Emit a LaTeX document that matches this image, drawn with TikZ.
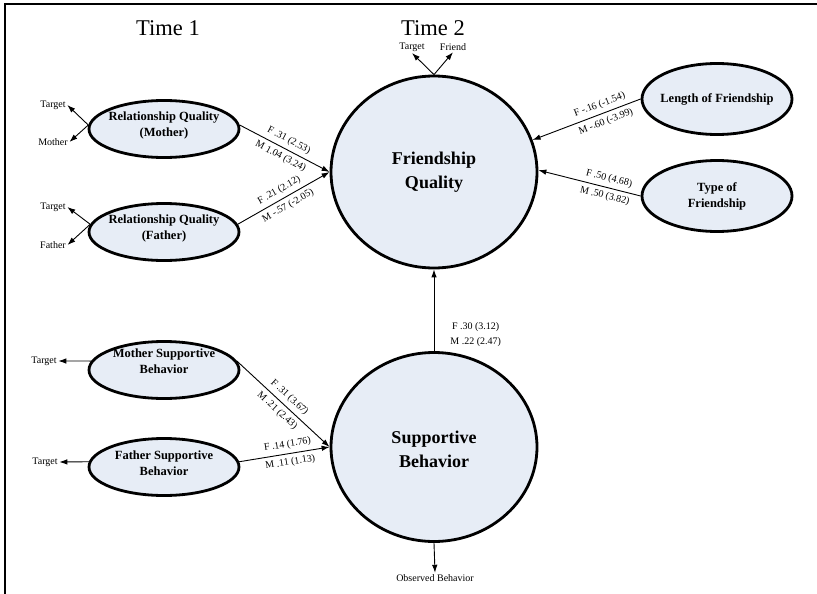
\documentclass[tikz,border=0pt]{standalone}
\usepackage{fontspec}
\setmainfont{Liberation Serif}
\usetikzlibrary{shapes.geometric,arrows.meta}
\definecolor{ellfill}{RGB}{231,237,246}
\begin{document}
\begin{tikzpicture}[x=1pt,y=-1pt,
  ell/.style={ellipse, draw=black, line width=2.8pt, fill=ellfill, inner sep=0pt},
  smallell/.style={ell, minimum width=150pt, minimum height=57pt},
  rightell/.style={ell, minimum width=150pt, minimum height=71pt},
  bigell/.style={ell, minimum width=206pt},
  smalltxt/.style={align=center, inner sep=0pt, font=\fontsize{12.5}{16}\selectfont\bfseries},
  bigtxt/.style={align=center, inner sep=0pt, font=\fontsize{18}{24}\selectfont\bfseries},
  ttl/.style={font=\fontsize{22.5}{26}\selectfont},
  lab/.style={font=\fontsize{10}{12}\selectfont, inner sep=1.5pt},
  coef/.style={font=\fontsize{10}{12}\selectfont, sloped, inner sep=1pt},
  arr/.style={-{Latex[length=8pt,width=5.5pt]}, line width=0.9pt}]
\useasboundingbox (0,0) rectangle (817,594);
\fill[white] (0,0) rectangle (817,594);
\draw[line width=1.4pt] (817,4) -- (5,4) -- (5,594);

\node[ttl] (time1) at (168,28) {Time 1};
\node[ttl] (time2) at (433,28) {Time 2};

% latent constructs
\node[bigell, minimum height=192pt] (fq) at (434,172) {};
\node[bigtxt] (fqt) at (fq.center) {Friendship\\Quality};
\node[bigell, minimum height=189pt] (sb) at (434,447) {};
\node[bigtxt] (sbt) at ([yshift=-2pt]sb.center) {Supportive\\Behavior};

\node[smallell] (rqm) at (164,129) {};
\node[smalltxt] (rqmt) at ([yshift=4pt]rqm.center) {Relationship Quality\\(Mother)};
\node[smallell] (rqf) at (164,232) {};
\node[smalltxt] (rqft) at ([yshift=4pt]rqf.center) {Relationship Quality\\(Father)};
\node[smallell] (msb) at (164,370) {};
\node[smalltxt] (msbt) at ([yshift=9pt]msb.center) {Mother Supportive\\Behavior};
\node[smallell] (fsb) at (164,467) {};
\node[smalltxt] (fsbt) at ([yshift=4pt]fsb.center) {Father Supportive\\Behavior};

\node[rightell] (lof) at (717,99) {};
\node[smalltxt] (loft) at (lof.center) {Length of Friendship};
\node[rightell] (tof) at (717,196) {};
\node[smalltxt] (toft) at (tof.center) {Type of\\Friendship};

% indicator labels
\node[lab] (rqmtg) at (53,105) {Target};
\node[lab] (rqmmo) at (53,142) {Mother};
\node[lab] (rqftg) at (53,207) {Target};
\node[lab] (rqffa) at (53,245) {Father};
\node[lab] (msbtg) at (44,361) {Target};
\node[lab] (fsbtg) at (45,462) {Target};
\node[lab] (fqtg) at (412,47) {Target};
\node[lab] (fqfr) at (453,47) {Friend};
\node[lab] (sbob) at (435,578) {Observed Behavior};

\draw[arr] (rqm.177) -- (rqmtg.east);
\draw[arr] (rqm.177) -- (rqmmo.east);
\draw[arr] (rqf.174) -- (rqftg.east);
\draw[arr] (rqf.174) -- (rqffa.east);
\draw[arr] (msb.173) -- (msbtg.east);
\draw[arr] (fsb.176) -- (fsbtg.east);
\draw[arr] (fq.north) -- (fqtg.south);
\draw[arr] (fq.north) -- (fqfr.south);
\draw[arr] (sb.south) -- (sbob.north);

% structural paths
\draw[arr] (rqm.3) -- (fq.180)
  node[coef, above=3pt, pos=.5] (c1a) {F .31 (2.53)}
  node[coef, below=3pt, pos=.5] (c1b) {M 1.04 (3.24)};
\draw[arr] (rqf.6) -- (fq.180)
  node[coef, above=3pt, pos=.5] (c2a) {F .21 (2.12)}
  node[coef, below=3pt, pos=.5] (c2b) {M -.57 (-2.05)};
\draw[arr] (lof.west) -- (fq.18)
  node[coef, above=3pt, pos=.35] (c3a) {F -.16 (-1.54)}
  node[coef, below=3pt, pos=.35] (c3b) {M -.60 (-3.99)};
\draw[arr] (tof.west) -- (fq.1)
  node[coef, above=3pt, pos=.33] (c4a) {F .50 (4.68)}
  node[coef, below=3pt, pos=.33] (c4b) {M .50 (3.82)};
\draw[arr] (msb.7) -- (sb.west)
  node[coef, above=3pt, pos=.5] (c5a) {F .31 (3.67)}
  node[coef, below=3pt, pos=.5] (c5b) {M .21 (2.43)};
\draw[arr] (fsb.4) -- (sb.west)
  node[coef, above=3pt, pos=.55] (c6a) {F .14 (1.76)}
  node[coef, below=3pt, pos=.55] (c6b) {M .11 (1.13)};
\draw[arr] (sb.north) -- (fq.south)
  node[pos=.2, anchor=west, xshift=14pt, align=center, inner sep=2pt,
       font=\fontsize{10}{15}\selectfont] (c7) {F .30 (3.12)\\M .22 (2.47)};
\end{tikzpicture}
\end{document}
